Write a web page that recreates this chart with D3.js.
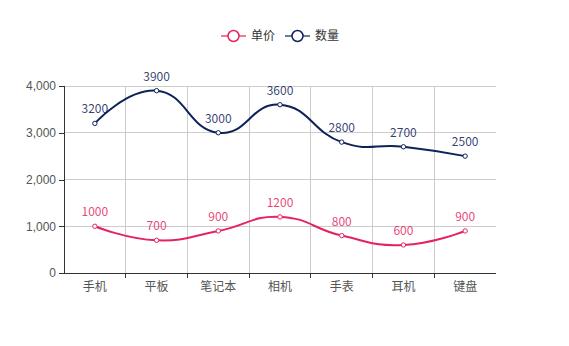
<!DOCTYPE html>
<html>
<head>
<meta charset="utf-8">
<script src="https://cdn.jsdelivr.net/npm/d3@7/dist/d3.min.js"></script>
<style>
  html, body { margin: 0; padding: 0; background: #fff; }
  svg { display: block; font-family: "Noto Sans CJK SC", "Noto Sans", sans-serif; }
</style>
</head>
<body>
<svg id="chart" width="569" height="346"></svg>
<script>
// Product categories and the two series plotted against them
const categories = ["手机", "平板", "笔记本", "相机", "手表", "耳机", "键盘"];
const priceValues = [1000, 700, 900, 1200, 800, 600, 900];
const quantityValues = [3200, 3900, 3000, 3600, 2800, 2700, 2500];
const yTicks = [0, 1000, 2000, 3000, 4000];
const seriesNames = ["单价", "数量"];

const colors = { "单价": "#e4245e", "数量": "#0e2159" };

const svg = d3.select("#chart");
const margin = { left: 64, right: 73, top: 86, bottom: 73 };
const W = 569, H = 346;

const x = d3.scaleBand().domain(categories).range([margin.left, W - margin.right]);
const y = d3.scaleLinear().domain([0, 4000]).range([H - margin.bottom, margin.top]);

// Category boundaries (inner ones carry grid lines and ticks)
const boundaries = categories.map(c => x(c)).concat([x.range()[1]]);
const inner = boundaries.slice(1, -1);

// Vertical grid lines
svg.append("g").selectAll("line").data(inner).join("line")
  .attr("x1", d => d).attr("x2", d => d)
  .attr("y1", y(4000)).attr("y2", y(0))
  .attr("stroke", "#ccc").attr("stroke-width", 1).attr("shape-rendering", "crispEdges");

// Horizontal grid lines
svg.append("g").selectAll("line").data(yTicks.slice(1)).join("line")
  .attr("x1", x.range()[0]).attr("x2", x.range()[1])
  .attr("y1", d => y(d)).attr("y2", d => y(d))
  .attr("stroke", "#ccc").attr("stroke-width", 1).attr("shape-rendering", "crispEdges");

// Y axis
const yAxis = svg.append("g")
  .attr("transform", `translate(${margin.left},0)`)
  .call(d3.axisLeft(y).tickValues(yTicks).tickSize(5).tickPadding(3).tickFormat(d3.format(",")));
yAxis.select(".domain").attr("stroke", "#333").attr("shape-rendering", "crispEdges");
yAxis.selectAll(".tick line").attr("stroke", "#333").attr("shape-rendering", "crispEdges");
yAxis.selectAll("text").attr("fill", "#555").attr("font-size", 12);

// X axis with ticks between categories
const xAxisG = svg.append("g").attr("transform", `translate(0,${y(0)})`);
xAxisG.append("line")
  .attr("x1", x.range()[0]).attr("x2", x.range()[1])
  .attr("stroke", "#333").attr("shape-rendering", "crispEdges");
xAxisG.selectAll(".tk").data(inner).join("line")
  .attr("class", "tk")
  .attr("x1", d => d).attr("x2", d => d).attr("y1", 0).attr("y2", 5)
  .attr("stroke", "#333").attr("shape-rendering", "crispEdges");
xAxisG.selectAll("text").data(categories).join("text")
  .attr("x", d => x(d) + x.bandwidth() / 2)
  .attr("y", 18)
  .attr("text-anchor", "middle")
  .attr("fill", "#555")
  .attr("font-size", 12)
  .text(d => d);

// Smoothed lines
const line = d3.line()
  .x((d, i) => x(categories[i]) + x.bandwidth() / 2)
  .y(d => y(d))
  .curve(d3.curveCardinal.tension(-0.45));

const series = [
  { name: "单价", values: priceValues },
  { name: "数量", values: quantityValues }
];

series.forEach(s => {
  const g = svg.append("g");
  g.append("path")
    .attr("d", line(s.values))
    .attr("fill", "none")
    .attr("stroke", colors[s.name])
    .attr("stroke-width", 2);
  g.selectAll("circle").data(s.values).join("circle")
    .attr("cx", (d, i) => x(categories[i]) + x.bandwidth() / 2)
    .attr("cy", d => y(d))
    .attr("r", 2.2)
    .attr("fill", "#fff")
    .attr("stroke", colors[s.name])
    .attr("stroke-width", 1);
  g.selectAll("text").data(s.values).join("text")
    .attr("x", (d, i) => x(categories[i]) + x.bandwidth() / 2)
    .attr("y", d => y(d) - 10)
    .attr("text-anchor", "middle")
    .attr("fill", colors[s.name])
    .attr("fill-opacity", 0.85)
    .attr("font-size", 12)
    .text(d => d);
});

// Legend
const legend = svg.append("g");
const legendItems = [{ name: "单价", x: 221 }, { name: "数量", x: 285 }];
legendItems.forEach(item => {
  const g = legend.append("g").attr("transform", `translate(${item.x},36)`);
  g.append("line").attr("x1", 0).attr("x2", 25).attr("y1", 0).attr("y2", 0)
    .attr("stroke", colors[item.name]).attr("stroke-width", 1.5).attr("stroke-opacity", 0.8);
  g.append("circle").attr("cx", 12.5).attr("cy", 0).attr("r", 5.5)
    .attr("fill", "#fff").attr("stroke", colors[item.name]).attr("stroke-width", 1.5);
  g.append("text").attr("x", 30).attr("y", 0).attr("dy", "0.35em")
    .attr("fill", "#333").attr("font-size", 12).text(item.name);
});
</script>
</body>
</html>
